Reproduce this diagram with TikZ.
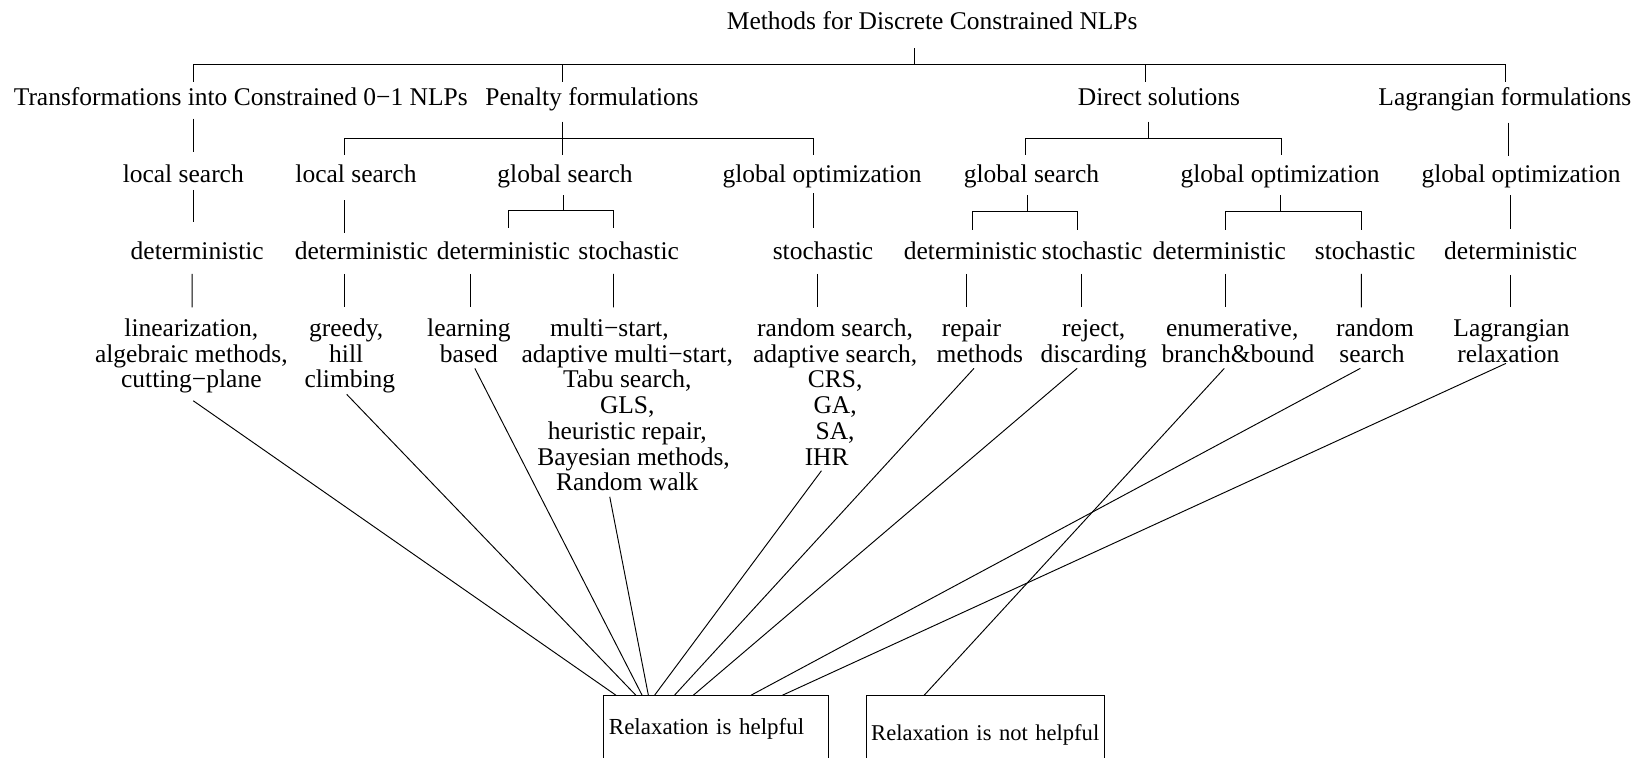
\documentclass[tikz,border=0pt]{standalone}
\usepackage{fontspec}
\setmainfont{Liberation Serif}
\newcommand\firstln{\rule{0pt}{17pt}}
\begin{document}
\begin{tikzpicture}[x=1pt,y=-1pt,line width=0.9pt,
  lbl/.style={inner sep=0pt, anchor=base, font=\fontsize{24.3}{24.5}\selectfont},
  ml/.style={inner sep=0pt, anchor=north, align=center, font=\fontsize{24.3}{24.5}\selectfont},
  resbox/.style={draw, inner xsep=0pt, inner ysep=0pt, anchor=north west, align=left, font=\fontsize{21.9}{24}\selectfont}]
\useasboundingbox (0,0) rectangle (1568,722);
\clip (0,0) rectangle (1568,722);
% level 0
\node[lbl] (root) at (888.6,28) {Methods for Discrete Constrained NLPs};
% level 1
\node[lbl] (tr) at (229.5,101) {Transformations into Constrained 0−1 NLPs};
\node[lbl] (pen) at (564.3,101) {Penalty formulations};
\node[lbl] (dir) at (1104.7,101) {Direct solutions};
\node[lbl] (lag) at (1434.4,101) {Lagrangian formulations};
% level 2
\node[lbl] (trls) at (174.7,174) {local search};
\node[lbl] (pls) at (339.3,174) {local search};
\node[lbl] (pgs) at (538.6,174) {global search};
\node[lbl] (pgo) at (783.5,174) {global optimization};
\node[lbl] (dgs) at (983.2,174) {global search};
\node[lbl] (dgo) at (1220.2,174) {global optimization};
\node[lbl] (lgo) at (1449.9,174) {global optimization};
% level 3
\node[lbl] (trd) at (188,247) {deterministic};
\node[lbl] (pd) at (344.4,247) {deterministic};
\node[lbl] (pgd) at (479.8,247) {deterministic};
\node[lbl] (pgst) at (599.2,247) {stochastic};
\node[lbl] (pgost) at (784.5,247) {stochastic};
\node[lbl] (dgd) at (925,247) {deterministic};
\node[lbl] (dgst) at (1041,247) {stochastic};
\node[lbl] (dgod) at (1162.2,247) {deterministic};
\node[lbl] (dgost) at (1301.2,247) {stochastic};
\node[lbl] (lgd) at (1440,247) {deterministic};
% level 4
\node[ml] (lin) at (182.4,303.3) {\firstln linearization,\\algebraic methods,\\cutting−plane};
\node[ml] (greedy) at (330,303.3) {\firstln greedy,\\hill\hspace*{10pt}\\\hspace*{7pt}climbing};
\node[ml] (learn) at (447,303.3) {\firstln learning\\based};
\node[ml] (multi) at (597.9,303.3) {\firstln multi−start,\hspace*{34pt}\\adaptive multi−start,\\Tabu search,\hspace*{18pt}\\GLS,\hspace*{22pt}\\heuristic repair,\\\hspace*{12pt}Bayesian methods,\\Random walk};
\node[ml] (rand) at (796,303.3) {\firstln random search,\\adaptive search,\\CRS,\hspace*{16pt}\\GA,\hspace*{16pt}\\SA,\hspace*{16pt}\\IHR\hspace*{16pt}};
\node[ml] (repair) at (934,303.3) {\firstln repair\hspace*{16pt}\\methods};
\node[ml] (reject) at (1042.5,303.3) {\firstln reject,\\discarding};
\node[ml] (enum) at (1180,303.3) {\firstln enumerative,\hspace*{11pt}\\branch\&bound};
\node[ml] (rs) at (1310.6,303.3) {\firstln random\\search\hspace*{5.6pt}};
\node[ml] (lagr) at (1440.7,303.3) {\firstln Lagrangian\\relaxation\hspace*{6pt}};
% result boxes
\node[resbox, text width=214pt, minimum height=62.6pt] (help) at (575,662.6) {\noindent\mbox{\hspace*{5pt}Relaxation is helpful}};
\node[resbox, text width=227pt, minimum height=74.6pt, font=\fontsize{21.5}{24}\selectfont] (nohelp) at (825,662.6) {\noindent\mbox{\hspace*{5pt}Relaxation is not helpful}};
% junctions
\coordinate (j0) at (872,61);
\coordinate (j1) at (535.8,132);
\coordinate (j2) at (1094.4,132);
\coordinate (j3) at (536.8,201);
\coordinate (j4) at (979.8,202);
\coordinate (j5) at (1220.5,202);
% level 0 -> 1
\draw ([shift={(-16.6,18)}]root.base) -- (j0);
\draw (j0) -| ([shift={(-45.3,-23)}]tr.base);
\draw (j0) -| ([shift={(-28.5,-23)}]pen.base);
\draw (j0) -| ([shift={(-12.9,-23)}]dir.base);
\draw (j0) -| ([shift={(1,-23)}]lag.base);
% level 1 -> 2
\draw ([shift={(-45.3,12)}]tr.base) -- ([shift={(9.5,-29)}]trls.base);
\draw ([shift={(-28.5,15)}]pen.base) -- ([shift={(-2.8,-26)}]pgs.base);
\draw (j1) -| ([shift={(-10.8,-26)}]pls.base);
\draw (j1) -| ([shift={(-8,-26)}]pgo.base);
\draw ([shift={(-10.3,15)}]dir.base) -- (j2);
\draw (j2) -| ([shift={(-5.9,-26)}]dgs.base);
\draw (j2) -| ([shift={(0.8,-26)}]dgo.base);
\draw ([shift={(3,16)}]lag.base) -- ([shift={(-12.5,-25)}]lgo.base);
% level 2 -> 3
\draw ([shift={(9.5,7)}]trls.base) -- ([shift={(-3.8,-35)}]trd.base);
\draw ([shift={(-10.8,17)}]pls.base) -- ([shift={(-15.9,-25)}]pd.base);
\draw ([shift={(-1.8,12)}]pgs.base) -- (j3);
\draw (j3) -| ([shift={(4.6,-30)}]pgd.base);
\draw (j3) -| ([shift={(-14.9,-30)}]pgst.base);
\draw ([shift={(-8,10)}]pgo.base) -- ([shift={(-9,-30)}]pgost.base);
\draw ([shift={(-3.4,12)}]dgs.base) -- (j4);
\draw (j4) -| ([shift={(1.8,-28)}]dgd.base);
\draw (j4) -| ([shift={(-13.7,-28)}]dgst.base);
\draw ([shift={(0.3,12)}]dgo.base) -- (j5);
\draw (j5) -| ([shift={(5.8,-28)}]dgod.base);
\draw (j5) -| ([shift={(-3.5,-28)}]dgost.base);
\draw ([shift={(-9.9,12)}]lgo.base) -- ([shift={(0,-29)}]lgd.base);
% level 3 -> 4
\draw ([shift={(-4.9,14)}]trd.base) -- ([shift={(0.7,-10.3)}]lin.north);
\draw ([shift={(-15.9,14)}]pd.base) -- ([shift={(-1.5,-10.3)}]greedy.north);
\draw ([shift={(-31.8,14)}]pgd.base) -- ([shift={(1,-10.3)}]learn.north);
\draw ([shift={(-14.4,14)}]pgst.base) -- ([shift={(-13.1,-10.3)}]multi.north);
\draw ([shift={(-5.5,14)}]pgost.base) -- ([shift={(-17,-10.3)}]rand.north);
\draw ([shift={(-3.7,14)}]dgd.base) -- ([shift={(-12.7,-10.3)}]repair.north);
\draw ([shift={(-10.2,14)}]dgst.base) -- ([shift={(-11.7,-10.3)}]reject.north);
\draw ([shift={(6.3,14)}]dgod.base) -- ([shift={(-11.5,-10.3)}]enum.north);
\draw ([shift={(-3.5,14)}]dgost.base) -- ([shift={(-12.9,-10.3)}]rs.north);
\draw ([shift={(0,15)}]lgd.base) -- ([shift={(-0.7,-10.3)}]lagr.north);
% to result boxes
\draw ([shift={(1.8,78.7)}]lin.north) -- ([shift={(12,0)}]help.north west);
\draw ([shift={(0.5,72.6)}]greedy.north) -- ([shift={(31,0)}]help.north west);
\draw ([shift={(5.6,47.8)}]learn.north) -- ([shift={(37,0)}]help.north west);
\draw ([shift={(-16.7,170.2)}]multi.north) -- ([shift={(43,0)}]help.north west);
\draw ([shift={(-13,145.4)}]rand.north) -- ([shift={(49,0)}]help.north west);
\draw ([shift={(-5.6,47.8)}]repair.north) -- ([shift={(68,0)}]help.north west);
\draw ([shift={(-15.8,47.8)}]reject.north) -- ([shift={(86,0)}]help.north west);
\draw ([shift={(-13.9,47.8)}]rs.north) -- ([shift={(141,0)}]help.north west);
\draw ([shift={(-5.3,43.1)}]lagr.north) -- ([shift={(171,0)}]help.north west);
\draw ([shift={(-13,47.8)}]enum.north) -- ([shift={(56,0)}]nohelp.north west);
\end{tikzpicture}
\end{document}
